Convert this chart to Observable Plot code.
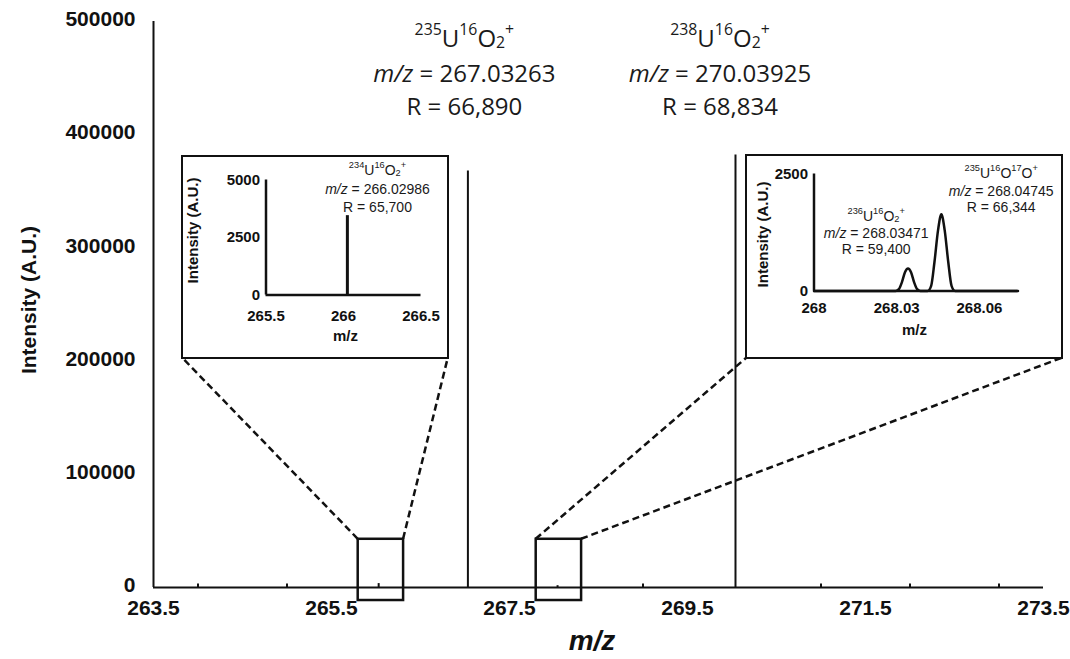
<!DOCTYPE html>
<html><head><meta charset="utf-8">
<script src="https://cdn.jsdelivr.net/npm/d3@7"></script>
<script src="https://cdn.jsdelivr.net/npm/@observablehq/plot@0.6"></script>
<style>
body{margin:0;background:#fff;}
#wrap{position:relative;width:1070px;height:659px;overflow:hidden;background:#fff;}
.inset{position:absolute;border:2.5px solid #111;background:#fff;box-sizing:border-box;}
.inset svg{display:block;}
</style></head><body><div id="wrap"></div><script>
// ---------- main spectrum data ----------
const mainTickX = [263.5, 265.5, 267.5, 269.5, 271.5, 273.5];
const mainTickY = [0, 100000, 200000, 300000, 400000, 500000];
const peakMz = [264.0, 265.0, 266.03, 267.03263, 268.04, 269.0, 270.03925, 271.0, 272.0, 273.0];
const peakIntensity = [3000, 3000, 3450, 368000, 1600, 3000, 382000, 3000, 3000, 3000];
// zoom windows drawn on the main plot
const zoomX1 = [265.80, 267.80];
const zoomX2 = [266.31, 268.31];
const zoomY1 = [-11500, -11500];
const zoomY2 = [42600, 42600];
// main annotations
const annMz = [267.03263, 270.03925];
const annIon = [["^235","U","^16","O","_2","^+"], ["^238","U","^16","O","_2","^+"]];
const annMzText = ["267.03263", "270.03925"];
const annR = ["66,890", "68,834"];

// ---------- left inset data ----------
const leftTickX = [265.5, 266, 266.5];
const leftTickY = [0, 2500, 5000];
const leftPeakMz = [266.025];
const leftPeakInt = [3450];
const leftAnnIon = ["^234","U","^16","O","_2","^+"];
const leftAnnMz = "266.02986";
const leftAnnR = "65,700";

// ---------- right inset data ----------
const rightTickX = [268, 268.03, 268.06];
const rightTickY = [0, 2500];
const rightMz = [268.000, 268.0296, 268.0308, 268.0319, 268.0330, 268.0341, 268.0352, 268.0363, 268.0374, 268.0386,
                 268.0412, 268.0425, 268.0437, 268.0450, 268.0462, 268.0474, 268.0487, 268.0499, 268.0512, 268.074];
const rightInt = [0, 0, 40, 190, 400, 480, 400, 190, 40, 0,
                  0, 110, 620, 1300, 1640, 1300, 620, 110, 0, 0];
const rightAnnIon = [["^236","U","^16","O","_2","^+"], ["^235","U","^16","O","^17","O","^+"]];
const rightAnnMz = ["268.03471", "268.04745"];
const rightAnnR = ["59,400", "66,344"];

const INK = "#111";
const SANS = "'Liberation Sans', Arial, sans-serif";
const CAL = "'Open Sans', sans-serif";

function richText(svg, x, y, segs, size, family, opts = {}) {
  const t = d3.select(svg).append("text")
    .attr("x", x).attr("y", y)
    .attr("text-anchor", opts.anchor || "middle")
    .attr("fill", opts.fill || "#1a1a1a")
    .style("font-family", family)
    .style("font-size", size + "px")
    .style("font-weight", opts.weight || "normal");
  for (const s of segs) {
    const sp = t.append("tspan");
    const k = s[0];
    if (k === "^") {
      sp.text(s.slice(1)).style("font-size", (size * 0.66) + "px").attr("baseline-shift", (size * 0.5) + "px");
    } else if (k === "_") {
      sp.text(s.slice(1)).style("font-size", (size * 0.66) + "px").attr("baseline-shift", (-size * 0.06) + "px");
    } else if (k === "*") {
      sp.text(s.slice(1)).style("font-style", "italic");
    } else {
      sp.text(s);
    }
  }
  return t;
}

const wrap = document.getElementById("wrap");

// ---------- main plot ----------
const peaks = peakMz.map((m, i) => ({mz: m, intensity: peakIntensity[i]}));
const boxes = zoomX1.map((x, i) => ({x1: x, x2: zoomX2[i], y1: zoomY1[i], y2: zoomY2[i]}));

const main = Plot.plot({
  width: 1070, height: 659,
  marginLeft: 153, marginRight: 27, marginTop: 21, marginBottom: 72,
  x: {domain: [263.5, 273.5], label: null},
  y: {domain: [0, 500000], label: null},
  style: {fontFamily: SANS, fontSize: "21px", fontWeight: "bold", color: INK, background: "#fff", overflow: "visible"},
  marks: [
    Plot.axisX({ticks: mainTickX, tickFormat: d => d.toFixed(1), tickSize: 0, tickPadding: 13, label: null}),
    Plot.axisY({ticks: mainTickY, tickFormat: d => String(d), tickSize: 0, tickPadding: 18, dy: -2, label: null}),
    Plot.ruleX(peaks, {x: "mz", y1: 0, y2: "intensity", stroke: INK, strokeWidth: 2}),
    Plot.ruleY([0], {stroke: INK, strokeWidth: 2}),
    Plot.ruleX([263.5], {stroke: INK, strokeWidth: 2}),
    Plot.rect(boxes, {x1: "x1", x2: "x2", y1: "y1", y2: "y2", fill: "none", stroke: INK, strokeWidth: 2.5})
  ]
});
wrap.appendChild(main);

const sx = main.scale("x"), sy = main.scale("y");

// axis titles
d3.select(main).append("text")
  .attr("transform", "translate(28,300) rotate(-90)")
  .attr("text-anchor", "middle").attr("dominant-baseline", "central")
  .attr("fill", INK).style("font-family", SANS).style("font-size", "21px").style("font-weight", "bold")
  .text("Intensity (A.U.)");
d3.select(main).append("text")
  .attr("x", 592).attr("y", 650).attr("text-anchor", "middle")
  .attr("fill", INK).style("font-family", SANS).style("font-size", "28px").style("font-weight", "bold").style("font-style", "italic")
  .text("m/z");

// main annotations
const annDx = [-3, -15];
annMz.forEach((m, i) => {
  const cx = sx.apply(m) + annDx[i];
  richText(main, cx, 47, annIon[i], 24, CAL);
  richText(main, cx, 82, ["*m/z", " = " + annMzText[i]], 24, CAL);
  richText(main, cx, 115, ["R = " + annR[i]], 24, CAL);
});

// inset frames (layout)
const insets = [
  {left: 181, top: 155, width: 268, height: 204},
  {left: 745, top: 154, width: 318, height: 205}
];

// dashed connectors
const g = d3.select(main).append("g").attr("stroke", INK).attr("stroke-width", 2.5).attr("stroke-dasharray", "7,4").attr("fill", "none");
boxes.forEach((b, i) => {
  const ins = insets[i];
  const bl = [ins.left + 1.25, ins.top + ins.height - 1.25];
  const br = [ins.left + ins.width - 1.25, ins.top + ins.height - 1.25];
  g.append("line").attr("x1", sx.apply(b.x1)).attr("y1", sy.apply(b.y2)).attr("x2", bl[0]).attr("y2", bl[1]);
  g.append("line").attr("x1", sx.apply(b.x2)).attr("y1", sy.apply(b.y2)).attr("x2", br[0]).attr("y2", br[1]);
});

function makeInset(ins) {
  const d = document.createElement("div");
  d.className = "inset";
  d.style.left = ins.left + "px"; d.style.top = ins.top + "px";
  d.style.width = ins.width + "px"; d.style.height = ins.height + "px";
  wrap.appendChild(d);
  return d;
}

// ---------- left inset ----------
{
  const d = makeInset(insets[0]);
  const W = insets[0].width - 5, H = insets[0].height - 5;
  const p = Plot.plot({
    width: W, height: H,
    marginLeft: 82.5, marginRight: 25.5, marginTop: 22.5, marginBottom: 61.5,
    x: {domain: [265.5, 266.5], ticks: leftTickX, tickFormat: d => String(d), tickSize: 0, tickPadding: 15, label: null},
    y: {domain: [0, 5000], ticks: leftTickY, tickFormat: d => String(d), tickSize: 0, tickPadding: 6, label: null},
    style: {fontFamily: SANS, fontSize: "15px", fontWeight: "bold", color: INK, background: "#fff", overflow: "visible"},
    marks: [
      Plot.ruleX(leftPeakMz.map((m, i) => ({mz: m, v: leftPeakInt[i]})), {x: "mz", y1: 0, y2: "v", stroke: INK, strokeWidth: 3}),
      Plot.ruleY([0], {stroke: INK, strokeWidth: 2.5}),
      Plot.ruleX([265.5], {stroke: INK, strokeWidth: 2.5})
    ]
  });
  d.appendChild(p);
  d3.select(p).append("text")
    .attr("transform", "translate(9.5,73.5) rotate(-90)")
    .attr("text-anchor", "middle").attr("dominant-baseline", "central")
    .attr("fill", INK).style("font-family", SANS).style("font-size", "15px").style("font-weight", "bold")
    .text("Intensity (A.U.)");
  d3.select(p).append("text")
    .attr("x", 162.5).attr("y", 183.5).attr("text-anchor", "middle")
    .attr("fill", INK).style("font-family", SANS).style("font-size", "15px").style("font-weight", "bold")
    .text("m/z");
  const cx = 194.5;
  richText(p, cx, 17.5, leftAnnIon, 14, SANS);
  richText(p, cx, 37, ["*m/z", " = " + leftAnnMz], 14, SANS);
  richText(p, cx, 54.5, ["R = " + leftAnnR], 14, SANS);
}

// ---------- right inset ----------
{
  const d = makeInset(insets[1]);
  const W = insets[1].width - 5, H = insets[1].height - 5;
  const prof = rightMz.map((m, i) => ({mz: m, v: rightInt[i]}));
  const p = Plot.plot({
    width: W, height: H,
    marginLeft: 66.5, marginRight: 42.5, marginTop: 17.5, marginBottom: 65.5,
    x: {domain: [268, 268.074], ticks: rightTickX, tickFormat: d => String(d), tickSize: 0, tickPadding: 11, label: null},
    y: {domain: [0, 2500], ticks: rightTickY, tickFormat: d => String(d), tickSize: 0, tickPadding: 6, label: null},
    style: {fontFamily: SANS, fontSize: "15px", fontWeight: "bold", color: INK, background: "#fff", overflow: "visible"},
    marks: [
      Plot.ruleY([0], {stroke: INK, strokeWidth: 2.5}),
      Plot.ruleX([268], {stroke: INK, strokeWidth: 2.5}),
      Plot.line(prof, {x: "mz", y: "v", stroke: INK, strokeWidth: 2.5, curve: "monotone-x"})
    ]
  });
  d.appendChild(p);
  d3.select(p).append("text")
    .attr("transform", "translate(15.8,78.5) rotate(-90)")
    .attr("text-anchor", "middle").attr("dominant-baseline", "central")
    .attr("fill", INK).style("font-family", SANS).style("font-size", "15px").style("font-weight", "bold")
    .text("Intensity (A.U.)");
  d3.select(p).append("text")
    .attr("x", 167.5).attr("y", 178.5).attr("text-anchor", "middle")
    .attr("fill", INK).style("font-family", SANS).style("font-size", "15px").style("font-weight", "bold")
    .text("m/z");
  const cxs = [129.2, 254.2];
  const bases = [[64.5, 81.5, 97.5], [21.5, 39.5, 55.5]];
  [0, 1].forEach(i => {
    richText(p, cxs[i], bases[i][0], rightAnnIon[i], 14, SANS);
    richText(p, cxs[i], bases[i][1], ["*m/z", " = " + rightAnnMz[i]], 14, SANS);
    richText(p, cxs[i], bases[i][2], ["R = " + rightAnnR[i]], 14, SANS);
  });
}
</script></body></html>
